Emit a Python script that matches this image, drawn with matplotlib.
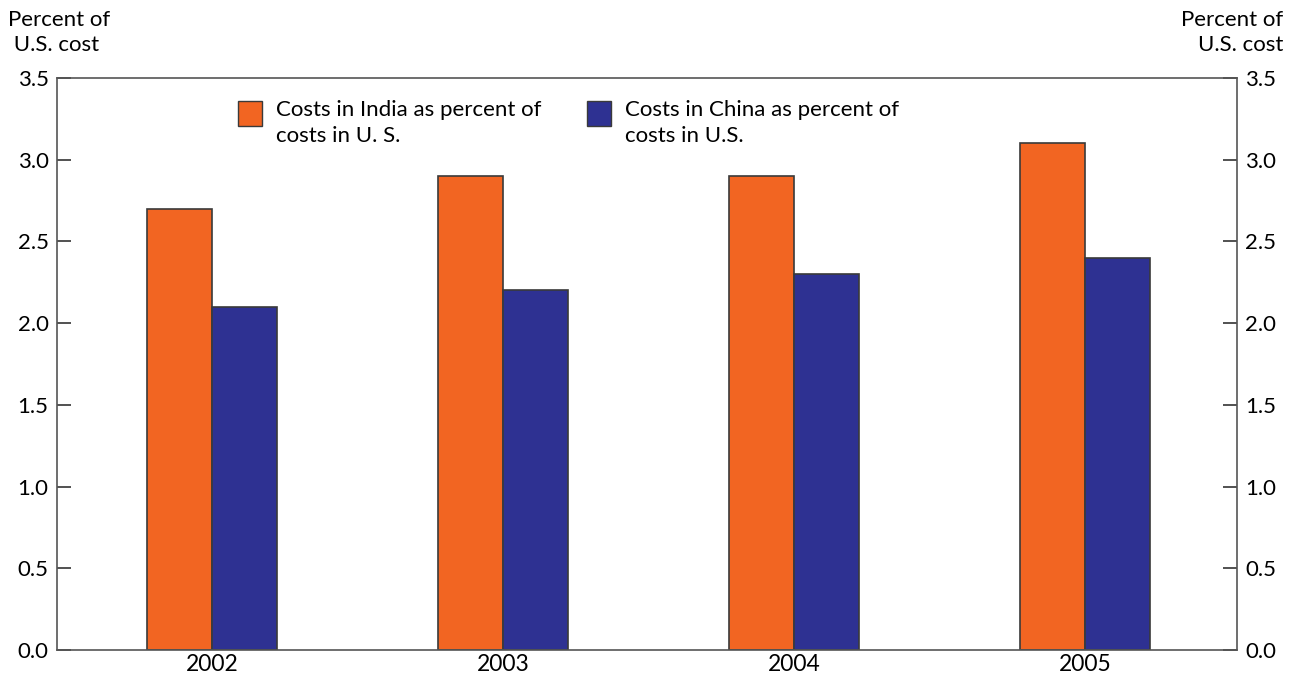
import numpy as np
from matplotlib import pyplot as plt
from matplotlib.patches import Rectangle

plt.rcParams['font.family'] = ['Lato', 'DejaVu Sans']

years = ["2002", "2003", "2004", "2005"]
india = [2.7, 2.9, 2.9, 3.1]
china = [2.1, 2.2, 2.3, 2.4]
yticks = [0.0, 0.5, 1.0, 1.5, 2.0, 2.5, 3.0, 3.5]

orange = "#F26522"
blue = "#2E3192"
edge = "#3a3a3a"

fig = plt.figure(figsize=(12.97, 6.83), dpi=100)
ax = fig.add_axes([57 / 1297, 1 - 650 / 683, 1180 / 1297, 572 / 683])

x = np.arange(len(years))
w = 0.224
ax.bar(x - w / 2, india, w, color=orange, edgecolor=edge, linewidth=1.2)
ax.bar(x + w / 2, china, w, color=blue, edgecolor=edge, linewidth=1.2)

ax.set_xlim(-0.533, 3.522)
ax.set_ylim(0, 3.5)
ax.set_xticks(x)
ax.set_xticklabels(years, fontsize=16.5)
ax.tick_params(axis="x", length=0, pad=3)
ax.set_yticks(yticks)
ax.set_yticklabels([f"{v:.1f}" for v in yticks], fontsize=16)
ax.tick_params(axis="y", direction="in", length=10, width=1.2, color="#333333",
               left=True, right=True, labelleft=True, labelright=True, pad=6)
for s in ax.spines.values():
    s.set_color("#555555")
    s.set_linewidth(1.2)

# unit labels
fig.text(8 / 1297, 1 - 10 / 683, "Percent of\n U.S. cost", ha="left", va="top",
         fontsize=16, linespacing=1.3)
fig.text(1283 / 1297, 1 - 10 / 683, "Percent of\nU.S. cost", ha="right", va="top",
         fontsize=16, linespacing=1.3, multialignment="right")

# legend
legend_items = [(238, orange, "Costs in India as percent of\ncosts in U. S."),
                (587, blue, "Costs in China as percent of\ncosts in U.S.")]
for px, col, label in legend_items:
    fig.patches.append(Rectangle((px / 1297, 1 - 126 / 683), 24 / 1297, 25 / 683,
                                 transform=fig.transFigure, facecolor=col,
                                 edgecolor=edge, linewidth=1.0))
    fig.text((px + 38) / 1297, 1 - 100 / 683, label, ha="left", va="top",
             fontsize=16, linespacing=1.35)

plt.savefig("out.png", dpi=100)
